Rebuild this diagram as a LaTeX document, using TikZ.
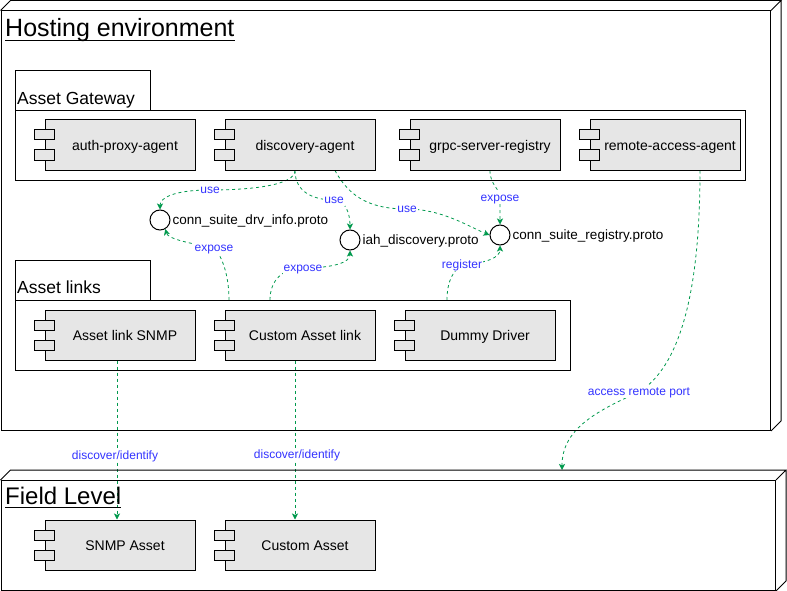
\documentclass[tikz,border=0pt]{standalone}
\usepackage{fontspec}
\setmainfont{Liberation Sans}
\usetikzlibrary{arrows.meta}
\definecolor{compfill}{HTML}{E6E6E6}
\definecolor{depgreen}{RGB}{0,153,77}
\definecolor{lblblue}{RGB}{51,51,255}
\pgfdeclarelayer{bg}
\pgfsetlayers{bg,main}
\newcommand\fs[1]{\fontsize{#1}{#1}\selectfont}
\newcommand\mycomp[3]{%
  \node[comp] (#1) at #2 {\hspace*{10pt}#3};
  \draw[tabbox] ([shift={(-10pt,5pt)}]#1.west) rectangle ([shift={(10pt,15pt)}]#1.west);
  \draw[tabbox] ([shift={(-10pt,-5pt)}]#1.west) rectangle ([shift={(10pt,-15pt)}]#1.west);}
\begin{document}
\begin{tikzpicture}[x=1pt,y=-1pt,
  box/.style={draw, anchor=north west, inner sep=0pt, line width=1pt},
  edgeline/.style={line width=1pt},
  comp/.style={draw, fill=compfill, line width=1pt, minimum width=150pt, minimum height=50pt, inner sep=0pt, text height=10pt, text depth=0pt, font=\fs{14}},
  tabbox/.style={draw, fill=compfill, line width=1pt},
  iface/.style={draw, circle, line width=1pt, minimum size=20pt, inner sep=0pt, fill=white},
  ifacelbl/.style={anchor=base west, inner sep=0pt, font=\fs{13.5}},
  titlelbl/.style={anchor=base west, inner sep=0pt, font=\fs{24}},
  pkglbl/.style={anchor=base west, inner sep=0pt, font=\fs{17.5}},
  lbl/.style={fill=white, text=lblblue, font=\fs{12}, inner sep=1pt, text height=8.5pt, text depth=2.3pt},
  dep/.style={draw=depgreen, line width=0.8pt, dash pattern=on 3pt off 3pt, -{Stealth[length=6pt,width=6pt,inset=1.5pt]}}
]
\useasboundingbox (0,0) rectangle (787,591);

% Hosting environment (3D node)
\node[box, minimum width=769.5pt, minimum height=419.5pt] (host) at (0.5,10.5) {};
\draw[edgeline] (host.north west) -- ++(10,-10) -- ([shift={(10pt,10pt)}]host.north east) -- (host.north east)
  ([shift={(10pt,10pt)}]host.north east) -- ([shift={(10pt,10pt)}]host.south east) -- (host.south east);
\node[titlelbl, font=\fs{25}] (hosttitle) at (5,37) {Hosting environment};
\draw[edgeline] ([yshift=-3.5pt]hosttitle.base west) -- ([yshift=-3.5pt]hosttitle.base east);

% Field Level (3D node)
\node[box, minimum width=774.5pt, minimum height=110pt] (field) at (0.5,480) {};
\draw[edgeline] (field.north west) -- ++(10,-10) -- ([shift={(10pt,10pt)}]field.north east) -- (field.north east)
  ([shift={(10pt,10pt)}]field.north east) -- ([shift={(10pt,10pt)}]field.south east) -- (field.south east);
\node[titlelbl] (fieldtitle) at (5,504.5) {Field Level};
\draw[edgeline] ([yshift=-3pt]fieldtitle.base west) -- ([yshift=-3pt]fieldtitle.base east);

% Asset Gateway package
\node[box, minimum width=135pt, minimum height=40pt] (gwtab) at (15,70) {};
\node[box, minimum width=730pt, minimum height=70pt] (gw) at (15,110) {};
\node[pkglbl] (gwlbl) at (17,104.5) {Asset Gateway};

% Asset links package
\node[box, minimum width=135pt, minimum height=40pt] (linkstab) at (15,260) {};
\node[box, minimum width=555pt, minimum height=70pt] (links) at (15,300) {};
\node[pkglbl] (linkslbl) at (17,293.5) {Asset links};

% Components
\mycomp{auth}{(120,145)}{auth-proxy-agent}
\mycomp{discovery}{(300,145)}{discovery-agent}
\mycomp{grpc}{(485,145)}{grpc-server-registry}
\mycomp{remote}{(665,145)}{remote-access-agent}
\mycomp{snmplink}{(120,335)}{Asset link SNMP}
\mycomp{customlink}{(300,335)}{Custom Asset link}
\mycomp{dummy}{(480,335)}{Dummy Driver}
\mycomp{snmpasset}{(120,545)}{SNMP Asset}
\mycomp{customasset}{(300,545)}{Custom Asset}

% Interfaces
\node[iface] (drv) at (160,220) {};
\node[ifacelbl] (drvlbl) at ([shift={(2pt,-4pt)}]drv.east) {conn\_suite\_drv\_info.proto};
\node[iface] (iah) at (350,240) {};
\node[ifacelbl] (iahlbl) at ([shift={(2pt,-4pt)}]iah.east) {iah\_discovery.proto};
\node[iface] (reg) at (500,235) {};
\node[ifacelbl] (reglbl) at ([shift={(2pt,-4pt)}]reg.east) {conn\_suite\_registry.proto};

% Edge labels
\node[lbl] (l1) at (210,190) {use};
\node[lbl] (l2) at (334,200) {use};
\node[lbl] (l3) at (407,209) {use};
\node[lbl] (l4) at (500,198) {expose};
\node[lbl] (l5) at (214,248) {expose};
\node[lbl] (l6) at (303,268) {expose};
\node[lbl] (l7) at (462,265) {register};
\node[lbl] (l8) at (639,392) {access remote port};

\coordinate (accessend) at (562,470);

\begin{pgfonlayer}{bg}
\draw[dep] ([xshift=-5pt]discovery.south) .. controls +(0,15) and +(40,0) .. (l1.center)
  .. controls +(-35,0) and +(0,-12) .. (drv.north);
\draw[dep] ([xshift=-5pt]discovery.south) .. controls +(0,22) and +(-20,0) .. (l2.center)
  .. controls +(12,0) and +(0,-15) .. (iah.north);
\draw[dep] ([xshift=35pt]discovery.south) .. controls +(15,28) and +(-35,0) .. (l3.center)
  .. controls +(35,0) and +(-20,-8) .. (reg.west);
\draw[dep] ([xshift=5pt]grpc.south) .. controls +(0,15) and +(0,-10) .. (l4.center)
  .. controls +(0,10) and +(0,-10) .. (reg.north);
\draw[dep] ([xshift=214pt]links.north west) .. controls +(0,-25) and +(8,8) .. (l5.center)
  .. controls +(-25,-5) and +(3,10) .. (drv.-60);
\draw[dep] ([xshift=255pt]links.north west) .. controls +(0,-20) and +(-20,0) .. (l6.center)
  .. controls +(30,0) and +(0,12) .. (iah.south);
\draw[dep] ([xshift=432pt]links.north west) .. controls +(0,-20) and +(-8,5) .. (l7.center)
  .. controls +(25,-2) and +(0,12) .. (reg.south);
\draw[dep] ([xshift=35pt]remote.south) .. controls +(0,125) and +(40,-25) .. (l8.center)
  .. controls +(-45,20) and +(0,-40) .. (accessend);
\draw[dep] ([xshift=-3pt]snmplink.south) -- node[lbl, pos=0.6, xshift=-2pt] {discover/identify} ([xshift=-3pt]snmpasset.north);
\draw[dep] ([xshift=-5pt]customlink.south) -- node[lbl, pos=0.594, xshift=2pt] {discover/identify} ([xshift=-5pt]customasset.north);
\end{pgfonlayer}
\end{tikzpicture}
\end{document}
